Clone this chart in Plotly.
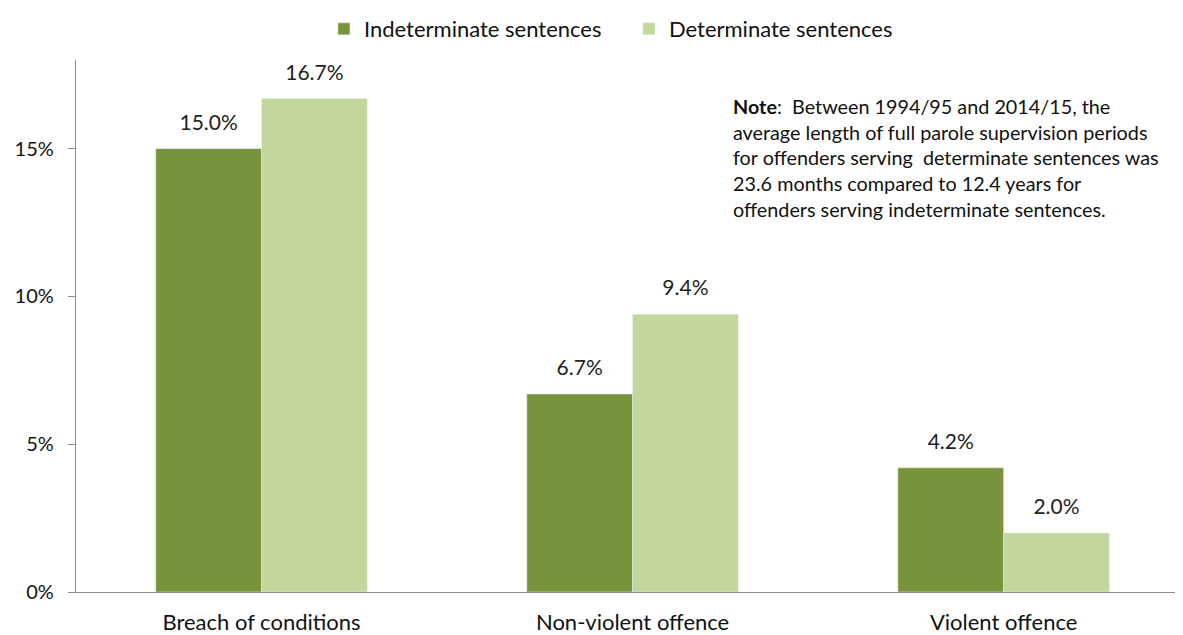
import plotly.graph_objects as go

categories = ["Breach of conditions", "Non-violent offence", "Violent offence"]
indeterminate = [15.0, 6.7, 4.2]
determinate = [16.7, 9.4, 2.0]
y_ticks = [0, 5, 10, 15]
y_tick_labels = ["0%", "5%", "10%", "15%"]

note_text = ("<b>Note</b>:  Between 1994/95 and 2014/15, the<br>"
             "average length of full parole supervision periods<br>"
             "for offenders serving  determinate sentences was<br>"
             "23.6 months compared to 12.4 years for<br>"
             "offenders serving indeterminate sentences.")

font_family = "Lato, Carlito, Open Sans, sans-serif"
series = [
    ("Indeterminate sentences", indeterminate, "#77933C", "ind"),
    ("Determinate sentences", determinate, "#C3D69B", "det"),
]

fig = go.Figure()
for name, values, color, group in series:
    fig.add_trace(go.Bar(
        x=categories, y=values, name=name, marker_color=color,
        offsetgroup=group,
    ))
for name, values, color, group in series:
    # value labels, aligned with the grouped bars
    fig.add_trace(go.Scatter(
        x=categories, y=values, mode="markers+text", offsetgroup=group,
        marker=dict(size=20, opacity=0), showlegend=False,
        text=[f"{v:.1f}%" for v in values], textposition="top center",
        textfont=dict(size=21, color="#222222"), cliponaxis=False,
        hoverinfo="skip",
    ))

fig.add_annotation(
    text=note_text, xref="paper", yref="paper", x=0.594, y=0.94,
    xanchor="left", yanchor="top", align="left", showarrow=False,
    font=dict(size=19.8, color="#111111"),
)

fig.update_layout(
    width=1183, height=635,
    margin=dict(l=68, r=13, t=52, b=51),
    paper_bgcolor="white", plot_bgcolor="white",
    font=dict(family=font_family, size=21, color="#111111"),
    barmode="group", bargap=0.43, bargroupgap=0,
    scattermode="group", scattergap=0.43,
    showlegend=True,
    legend=dict(orientation="h", x=0.225, xanchor="left",
                yref="container", y=1.0, yanchor="top",
                bgcolor="rgba(0,0,0,0)",
                font=dict(size=22), traceorder="normal",
                entrywidth=260, entrywidthmode="pixels"),
)
fig.update_xaxes(
    range=[-0.5, 2.47], showline=True, linecolor="#8c8c8c", linewidth=1.3,
    ticks="", tickfont=dict(size=22), automargin=False, ticklabelstandoff=10,
)
fig.update_yaxes(
    range=[0, 18], tickvals=y_ticks, ticktext=y_tick_labels,
    showline=True, linecolor="#8c8c8c", linewidth=1.3, showgrid=False,
    ticks="outside", ticklen=7, tickcolor="#8c8c8c", zeroline=False,
    tickfont=dict(size=20), ticklabelstandoff=10, automargin=False,
)

fig.write_html("out.html")
